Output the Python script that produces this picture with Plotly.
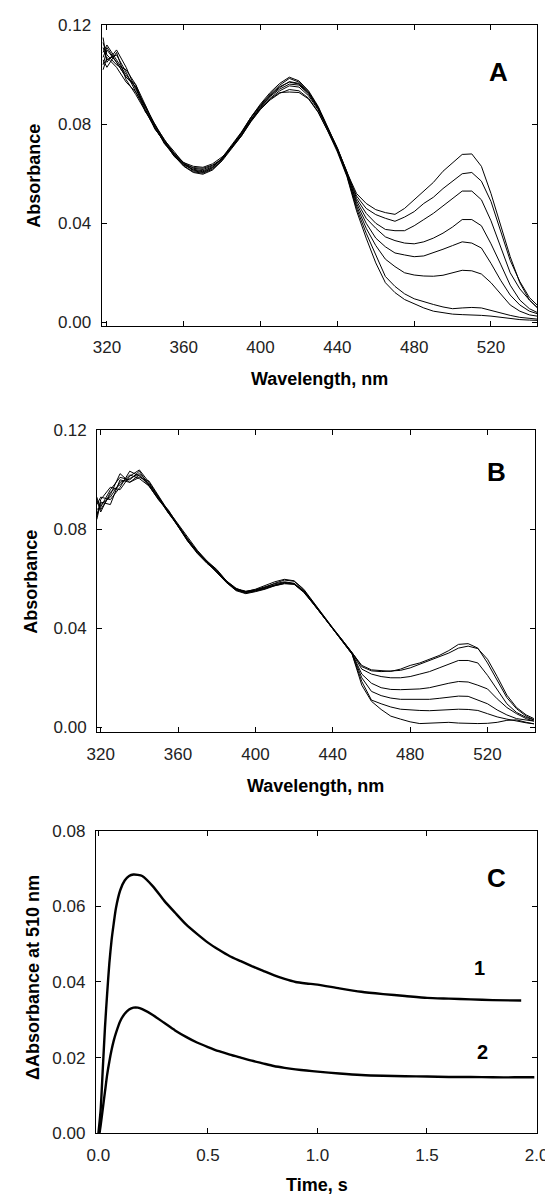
import plotly.graph_objects as go

# ---------------- Panel A / B : wavelength grid (nm) ----------------
wavelength = [318, 320, 325, 330, 335, 340, 345, 350, 355, 360, 365, 370, 375, 380,
              385, 390, 395, 400, 405, 410, 415, 420, 425, 430, 435, 440, 445, 450,
              455, 460, 465, 470, 475, 480, 485, 490, 495, 500, 505, 510, 515, 520,
              525, 530, 535, 540, 544]

# Panel A spectra (absorbance)
a1 = [0.111, 0.106, 0.108, 0.101, 0.093, 0.087, 0.078, 0.073, 0.067, 0.0635, 0.0618, 0.0612, 0.0628, 0.0662,
      0.0712, 0.0765, 0.0822, 0.0872, 0.0912, 0.0942, 0.0962, 0.0958, 0.0922, 0.0862, 0.0782, 0.0702, 0.0605, 0.052,
      0.048, 0.0455, 0.0443, 0.0436, 0.046, 0.0495, 0.053, 0.0565, 0.061, 0.0645, 0.0678, 0.068, 0.063, 0.052,
      0.039, 0.0265, 0.016, 0.009, 0.006]
a2 = [0.104, 0.110, 0.105, 0.099, 0.095, 0.085, 0.080, 0.072, 0.0685, 0.0645, 0.0622, 0.0617, 0.0632, 0.0658,
      0.0705, 0.0758, 0.0818, 0.0868, 0.0915, 0.0948, 0.0972, 0.0965, 0.093, 0.0868, 0.0785, 0.0698, 0.0602, 0.051,
      0.046, 0.0435, 0.042, 0.0408, 0.0425, 0.0447, 0.048, 0.0505, 0.054, 0.057, 0.060, 0.0605, 0.057, 0.0488,
      0.037, 0.025, 0.0165, 0.010, 0.007]
a3 = [0.113, 0.108, 0.104, 0.102, 0.096, 0.088, 0.0795, 0.0738, 0.068, 0.0642, 0.0615, 0.0608, 0.0625, 0.0665,
      0.0715, 0.0768, 0.0828, 0.0882, 0.0928, 0.0965, 0.099, 0.0975, 0.0935, 0.0872, 0.0788, 0.0702, 0.0608, 0.050,
      0.044, 0.040, 0.0375, 0.0370, 0.037, 0.039, 0.0415, 0.044, 0.047, 0.050, 0.053, 0.053, 0.0495, 0.041,
      0.0305, 0.020, 0.0135, 0.009, 0.006]
a4 = [0.106, 0.103, 0.109, 0.098, 0.092, 0.085, 0.0785, 0.0725, 0.0675, 0.0638, 0.0625, 0.0622, 0.0635, 0.066,
      0.0708, 0.0755, 0.0815, 0.0865, 0.0905, 0.0935, 0.0955, 0.095, 0.0915, 0.0858, 0.078, 0.0698, 0.0598, 0.049,
      0.042, 0.038, 0.0345, 0.033, 0.032, 0.0317, 0.0325, 0.034, 0.036, 0.0385, 0.0415, 0.0415, 0.039, 0.0317,
      0.0235, 0.015, 0.009, 0.0055, 0.004]
a5 = [0.109, 0.112, 0.106, 0.100, 0.095, 0.087, 0.080, 0.0735, 0.069, 0.064, 0.0612, 0.0605, 0.0622, 0.0662,
      0.0712, 0.0762, 0.0825, 0.0875, 0.0918, 0.0952, 0.097, 0.0962, 0.0925, 0.0865, 0.0785, 0.0705, 0.0605, 0.048,
      0.040, 0.034, 0.0305, 0.028, 0.0272, 0.0265, 0.0268, 0.028, 0.0295, 0.031, 0.0325, 0.032, 0.030, 0.0238,
      0.017, 0.011, 0.007, 0.0045, 0.0035]
a6 = [0.102, 0.107, 0.103, 0.097, 0.093, 0.0855, 0.0782, 0.0728, 0.0678, 0.0645, 0.063, 0.0626, 0.064, 0.0668,
      0.0705, 0.0752, 0.081, 0.086, 0.0898, 0.0925, 0.094, 0.0935, 0.0905, 0.085, 0.0775, 0.0695, 0.0595, 0.047,
      0.038, 0.031, 0.0255, 0.0225, 0.020, 0.0191, 0.0187, 0.0186, 0.019, 0.020, 0.021, 0.0208, 0.0195, 0.016,
      0.0115, 0.007, 0.0045, 0.003, 0.0025]
a7 = [0.115, 0.105, 0.110, 0.103, 0.094, 0.0875, 0.0792, 0.0732, 0.0682, 0.0632, 0.0608, 0.0602, 0.0618, 0.0655,
      0.0708, 0.0765, 0.0828, 0.0878, 0.0922, 0.0958, 0.0985, 0.097, 0.093, 0.0868, 0.0782, 0.0695, 0.0592, 0.046,
      0.036, 0.027, 0.0185, 0.0145, 0.0115, 0.0095, 0.0082, 0.0072, 0.0062, 0.0055, 0.0058, 0.006, 0.0058, 0.0048,
      0.0035, 0.0028, 0.002, 0.0015, 0.0013]
a8 = [0.107, 0.111, 0.105, 0.099, 0.096, 0.086, 0.0788, 0.0722, 0.0672, 0.063, 0.0605, 0.0598, 0.0615, 0.0652,
      0.0702, 0.0752, 0.0812, 0.0862, 0.0902, 0.0928, 0.093, 0.0928, 0.0902, 0.0848, 0.0772, 0.0688, 0.0588, 0.045,
      0.034, 0.024, 0.016, 0.012, 0.0092, 0.0075, 0.0058, 0.0045, 0.0038, 0.0033, 0.0031, 0.003, 0.0028, 0.0025,
      0.002, 0.0013, 0.0011, 0.0009, 0.0008]

# Panel B spectra (absorbance)
b1 = [0.086, 0.090, 0.093, 0.099, 0.1005, 0.1025, 0.0985, 0.0925, 0.0868, 0.0815, 0.0758, 0.0708, 0.0668, 0.0632,
      0.0588, 0.0558, 0.0548, 0.0558, 0.0572, 0.0588, 0.0598, 0.0592, 0.0558, 0.0505, 0.0452, 0.0402, 0.0352, 0.0302,
      0.025, 0.0232, 0.0228, 0.0226, 0.0235, 0.025, 0.026, 0.0275, 0.029, 0.031, 0.0335, 0.0338, 0.032, 0.026,
      0.019, 0.012, 0.0075, 0.0045, 0.003]
b2 = [0.092, 0.087, 0.095, 0.098, 0.102, 0.1005, 0.0975, 0.0918, 0.0875, 0.0822, 0.0765, 0.0715, 0.0672, 0.0638,
      0.0592, 0.0562, 0.0545, 0.0552, 0.0565, 0.0582, 0.0595, 0.059, 0.0555, 0.0502, 0.045, 0.040, 0.0352, 0.0302,
      0.0245, 0.0228, 0.0225, 0.0228, 0.023, 0.024, 0.0255, 0.027, 0.0285, 0.030, 0.032, 0.0328, 0.0318, 0.0275,
      0.0205, 0.013, 0.008, 0.005, 0.0035]
b3 = [0.084, 0.091, 0.090, 0.100, 0.099, 0.101, 0.0995, 0.0935, 0.0872, 0.0812, 0.0752, 0.0702, 0.0662, 0.063,
      0.0585, 0.0555, 0.0542, 0.055, 0.056, 0.0575, 0.0585, 0.058, 0.0548, 0.0498, 0.0448, 0.0398, 0.0348, 0.030,
      0.0235, 0.0215, 0.0205, 0.020, 0.020, 0.0205, 0.0215, 0.0225, 0.024, 0.0255, 0.027, 0.027, 0.026, 0.021,
      0.0155, 0.0095, 0.006, 0.004, 0.003]
b4 = [0.090, 0.093, 0.092, 0.097, 0.1035, 0.1015, 0.0982, 0.0928, 0.0865, 0.0818, 0.0762, 0.071, 0.067, 0.0635,
      0.059, 0.056, 0.055, 0.0556, 0.0568, 0.058, 0.0588, 0.0582, 0.0552, 0.0502, 0.0452, 0.0402, 0.035, 0.0298,
      0.0215, 0.0178, 0.016, 0.0153, 0.0152, 0.0153, 0.0155, 0.016, 0.017, 0.0178, 0.0185, 0.0183, 0.017, 0.0155,
      0.0115, 0.008, 0.0055, 0.0035, 0.0025]
b5 = [0.088, 0.089, 0.096, 0.101, 0.100, 0.1035, 0.0978, 0.0922, 0.0878, 0.0818, 0.0755, 0.0705, 0.0665, 0.0628,
      0.0585, 0.0552, 0.0540, 0.0548, 0.0558, 0.0572, 0.058, 0.0578, 0.0545, 0.0498, 0.0448, 0.0398, 0.0348, 0.0298,
      0.020, 0.0145, 0.0128, 0.0118, 0.0113, 0.0112, 0.0113, 0.0113, 0.0117, 0.012, 0.0126, 0.0125, 0.011, 0.0095,
      0.007, 0.005, 0.0035, 0.0028, 0.0025]
b6 = [0.085, 0.092, 0.097, 0.096, 0.1015, 0.104, 0.099, 0.093, 0.087, 0.081, 0.0752, 0.0705, 0.0665, 0.0632,
      0.0588, 0.0555, 0.0545, 0.0555, 0.0565, 0.0578, 0.0585, 0.058, 0.055, 0.0502, 0.045, 0.040, 0.035, 0.0295,
      0.0185, 0.011, 0.0095, 0.0082, 0.0073, 0.007, 0.0068, 0.0067, 0.0069, 0.007, 0.0073, 0.0072, 0.0068, 0.0055,
      0.0042, 0.0033, 0.0025, 0.0018, 0.0014]
b7 = [0.093, 0.088, 0.094, 0.1025, 0.099, 0.102, 0.0975, 0.092, 0.0862, 0.0812, 0.0758, 0.0712, 0.0668, 0.0635,
      0.0592, 0.0558, 0.0548, 0.0552, 0.0562, 0.0575, 0.0582, 0.0578, 0.0548, 0.050, 0.045, 0.0398, 0.0348, 0.0295,
      0.017, 0.0105, 0.0072, 0.0045, 0.0033, 0.0022, 0.0015, 0.0016, 0.0018, 0.002, 0.0017, 0.0015, 0.0015, 0.0016,
      0.002, 0.0028, 0.003, 0.002, 0.0014]

# ---------------- Panel C : kinetics at 510 nm ----------------
time1 = [0.0, 0.01, 0.02, 0.03, 0.04, 0.05, 0.06, 0.07, 0.08, 0.10, 0.12, 0.14, 0.16, 0.18, 0.20, 0.25,
         0.30, 0.35, 0.40, 0.45, 0.50, 0.55, 0.60, 0.65, 0.70, 0.75, 0.80, 0.85, 0.90, 0.95, 1.00, 1.10,
         1.20, 1.30, 1.40, 1.50, 1.60, 1.70, 1.80, 1.93]
trace1 = [0.0, 0.006, 0.017, 0.028, 0.037, 0.045, 0.051, 0.0555, 0.0595, 0.0643, 0.0668, 0.068, 0.0684, 0.0683,
          0.068, 0.0652, 0.0615, 0.0583, 0.0552, 0.0527, 0.0504, 0.0485, 0.0468, 0.0455, 0.0442, 0.043, 0.0418,
          0.0408, 0.0400, 0.0396, 0.0393, 0.0383, 0.0374, 0.0368, 0.0363, 0.0358, 0.0356, 0.0354, 0.0352, 0.0351]
time2 = [0.005, 0.01, 0.02, 0.03, 0.04, 0.05, 0.06, 0.07, 0.08, 0.10, 0.12, 0.14, 0.16, 0.18, 0.20, 0.25,
         0.30, 0.35, 0.40, 0.45, 0.50, 0.55, 0.60, 0.65, 0.70, 0.75, 0.80, 0.85, 0.90, 0.95, 1.00, 1.10,
         1.20, 1.30, 1.40, 1.50, 1.60, 1.70, 1.80, 1.90, 1.99]
trace2 = [0.0, 0.002, 0.0065, 0.011, 0.0155, 0.019, 0.022, 0.0245, 0.0265, 0.0297, 0.0316, 0.0327, 0.0332,
          0.0332, 0.0328, 0.0312, 0.0292, 0.0272, 0.0255, 0.024, 0.0228, 0.0217, 0.0208, 0.020, 0.0192, 0.0185,
          0.0178, 0.0173, 0.0169, 0.0166, 0.0163, 0.0158, 0.0154, 0.0152, 0.0151, 0.015, 0.0149, 0.0149, 0.0148,
          0.0148, 0.0148]

spectra_a = [a1, a2, a3, a4, a5, a6, a7, a8]
spectra_b = [b1, b2, b3, b4, b5, b6, b7]

W, H = 553, 1199
FONT = "Arial, Liberation Sans, Helvetica, sans-serif"

fig = go.Figure()
for s in spectra_a:
    fig.add_trace(go.Scatter(x=wavelength, y=s, mode="lines", xaxis="x", yaxis="y",
                             line=dict(color="black", width=1), showlegend=False, hoverinfo="skip"))
for s in spectra_b:
    fig.add_trace(go.Scatter(x=wavelength, y=s, mode="lines", xaxis="x2", yaxis="y2",
                             line=dict(color="black", width=1), showlegend=False, hoverinfo="skip"))
fig.add_trace(go.Scatter(x=time1, y=trace1, mode="lines", xaxis="x3", yaxis="y3",
                         line=dict(color="black", width=2.4, shape="spline", smoothing=0.6),
                         showlegend=False, hoverinfo="skip"))
fig.add_trace(go.Scatter(x=time2, y=trace2, mode="lines", xaxis="x3", yaxis="y3",
                         line=dict(color="black", width=2.4, shape="spline", smoothing=0.6),
                         showlegend=False, hoverinfo="skip"))


def px(x):
    return x / W


def py(y):
    return 1 - y / H


axis_style = dict(showline=True, linecolor="black", linewidth=1, mirror="allticks",
                  ticks="inside", ticklen=5, tickwidth=1, tickcolor="black",
                  showgrid=False, zeroline=False, ticklabelstandoff=6,
                  tickfont=dict(family=FONT, size=17, color="#222"))

fig.update_layout(
    width=W, height=H, margin=dict(l=0, r=0, t=0, b=0),
    paper_bgcolor="white", plot_bgcolor="white", showlegend=False,
    xaxis=dict(axis_style, domain=[px(87), px(541)], anchor="y", range=[317.2, 544.2],
               tickvals=[320, 360, 400, 440, 480, 520]),
    yaxis=dict(axis_style, domain=[py(314), py(8.3)], anchor="x", range=[-0.0015, 0.12],
               tickvals=[0, 0.04, 0.08, 0.12], tickformat=".2f"),
    xaxis2=dict(axis_style, domain=[px(82.3), px(538.3)], anchor="y2", range=[318.1, 544.5],
                tickvals=[320, 360, 400, 440, 480, 520]),
    yaxis2=dict(axis_style, domain=[py(727), py(420)], anchor="x2", range=[-0.0021, 0.12],
                tickvals=[0, 0.04, 0.08, 0.12], tickformat=".2f"),
    xaxis3=dict(axis_style, domain=[px(81), px(540)], anchor="y3", range=[-0.012, 2.0],
                tickvals=[0, 0.5, 1.0, 1.5, 2.0], tickformat=".1f"),
    yaxis3=dict(axis_style, domain=[py(1134.3), py(826.7)], anchor="x3", range=[0, 0.08],
                tickvals=[0, 0.02, 0.04, 0.06, 0.08], tickformat=".2f"),
)

title_font = dict(family=FONT, size=18, color="black")
annos = [
    dict(text="<b>Wavelength, nm</b>", x=px(314), y=py(368)),
    dict(text="<b>Wavelength, nm</b>", x=px(310), y=py(781)),
    dict(text="<b>Time, s</b>", x=px(311), y=py(1187)),
    dict(text="<b>Absorbance</b>", x=px(16.5), y=py(161.5), textangle=-90),
    dict(text="<b>Absorbance</b>", x=px(14), y=py(573.5), textangle=-90),
    dict(text="<b>ΔAbsorbance at 510 nm</b>", x=px(15.5), y=py(975.5), textangle=-90),
]
for a in annos:
    fig.add_annotation(xref="paper", yref="paper", showarrow=False, xanchor="center",
                       yanchor="middle", font=title_font, **a)

label_font = dict(family=FONT, size=26, color="black")
fig.add_annotation(text="<b>A</b>", x=523.7, y=0.1011, xref="x", yref="y", showarrow=False, font=label_font)
fig.add_annotation(text="<b>B</b>", x=524.4, y=0.103, xref="x2", yref="y2", showarrow=False, font=label_font)
fig.add_annotation(text="<b>C</b>", x=1.817, y=0.0674, xref="x3", yref="y3", showarrow=False, font=label_font)
num_font = dict(family=FONT, size=20, color="black")
fig.add_annotation(text="<b>1</b>", x=1.738, y=0.0438, xref="x3", yref="y3", showarrow=False, font=num_font)
fig.add_annotation(text="<b>2</b>", x=1.753, y=0.0214, xref="x3", yref="y3", showarrow=False, font=num_font)

fig.write_html("out.html")
